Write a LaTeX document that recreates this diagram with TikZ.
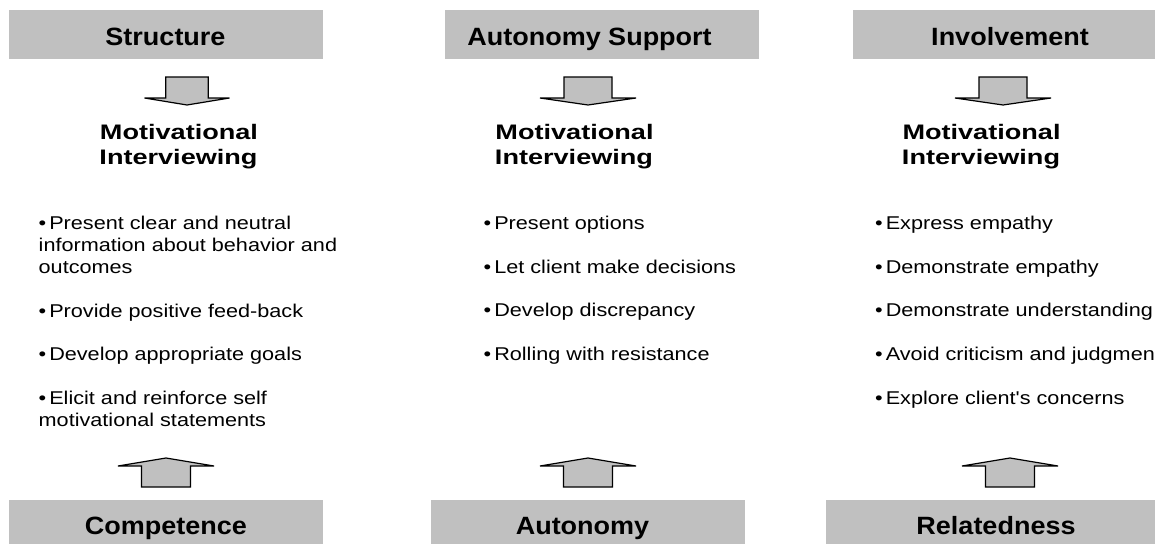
\documentclass[tikz,border=0pt]{standalone}
\usepackage{fontspec}
\setmainfont{Liberation Sans}
\newfontfamily\hdfont{Liberation Sans}[FakeStretch=1.08]
\newfontfamily\tifont{Liberation Sans}[FakeStretch=1.29]
\newfontfamily\bdfont{Liberation Sans}[FakeStretch=1.17]
\definecolor{boxgray}{HTML}{C0C0C0}
\newcommand\mybul{•\hspace{3pt}}
\begin{document}
\begin{tikzpicture}[x=1pt,y=-1pt,
  hbox/.style={fill=boxgray, draw=none, minimum width=314pt, minimum height=49pt, inner sep=0pt, anchor=north west},
  htext/.style={font=\hdfont\bfseries\fontsize{25}{30}\selectfont, anchor=base, inner sep=0pt},
  ttext/.style={font=\tifont\bfseries\fontsize{21}{25}\selectfont, anchor=base, inner sep=0pt},
  btext/.style={font=\bdfont\fontsize{18.5}{22}\selectfont, anchor=base west, inner sep=0pt},
  blockarrow/.style={fill=boxgray, draw=black, line width=1.2pt, line join=miter},
  pics/downarr/.style={code={\path[blockarrow] (-24,0) -- (24,0) -- (24,21) -- (48,21) -- (0,28) -- (-48,21) -- (-24,21) -- cycle;}},
  pics/uparr/.style={code={\path[blockarrow] (0,0) -- (48,8) -- (24.5,8) -- (24.5,29) -- (-24.5,29) -- (-24.5,8) -- (-48,8) -- cycle;}},
]
\useasboundingbox (0,0) rectangle (1155,543);
\clip (0,0) rectangle (1155,543);

% header boxes
\node[hbox] (b1) at (9,10) {};
\node[hbox] (b2) at (445,10) {};
\node[hbox] (b3) at (853,10) {};
\node[htext] (h1) at (165.5,45.5) {Structure};
\node[htext] (h2) at (589.5,45.5) {Autonomy Support};
\node[htext] (h3) at (1010,45.5) {Involvement};

% bottom boxes
\node[hbox] (c1) at (9,500) {};
\node[hbox] (c2) at (431,500) {};
\node[hbox, minimum width=340pt] (c3) at (826,500) {};
\node[htext] (f1) at (166,534.5) {Competence};
\node[htext] (f2) at (582.5,534.5) {Autonomy};
\node[htext] (f3) at (996,534.5) {Relatedness};

% arrows
\pic[xscale=0.885] (d1) at (187,77) {downarr};
\pic (d2) at (588,77) {downarr};
\pic (d3) at (1003,77) {downarr};
\pic (u1) at (166,458) {uparr};
\pic (u2) at (588,458) {uparr};
\pic (u3) at (1010,458) {uparr};

% titles
\node[ttext] (t1a) at (179,139.5) {Motivational};
\node[ttext] (t1b) at (178.5,164.5) {Interviewing};
\node[ttext] (t2a) at (574.5,139.5) {Motivational};
\node[ttext] (t2b) at (574,164.5) {Interviewing};
\node[ttext] (t3a) at (981.5,139.5) {Motivational};
\node[ttext] (t3b) at (981,164.5) {Interviewing};

% left bullets
\node[btext] (l1a) at (38.5,229.5) {\mybul Present clear and neutral};
\node[btext] (l1b) at (38.5,251.5) {information about behavior and};
\node[btext] (l1c) at (38.5,273.5) {outcomes};
\node[btext] (l2) at (38.5,317) {\mybul Provide positive feed-back};
\node[btext] (l3) at (38.5,360.5) {\mybul Develop appropriate goals};
\node[btext] (l4a) at (38.5,404.5) {\mybul Elicit and reinforce self};
\node[btext] (l4b) at (38.5,426) {motivational statements};

% middle bullets
\node[btext] (m1) at (483.5,229.5) {\mybul Present options};
\node[btext] (m2) at (483.5,273) {\mybul Let client make decisions};
\node[btext] (m3) at (483.5,316.5) {\mybul Develop discrepancy};
\node[btext] (m4) at (483.5,360) {\mybul Rolling with resistance};

% right bullets
\node[btext] (r1) at (875,229.5) {\mybul Express empathy};
\node[btext] (r2) at (875,273) {\mybul Demonstrate empathy};
\node[btext] (r3) at (875,316.5) {\mybul Demonstrate understanding};
\node[btext] (r4) at (875,360) {\mybul Avoid criticism and judgment};
\node[btext] (r5) at (875,404) {\mybul Explore client's concerns};
\end{tikzpicture}
\end{document}
